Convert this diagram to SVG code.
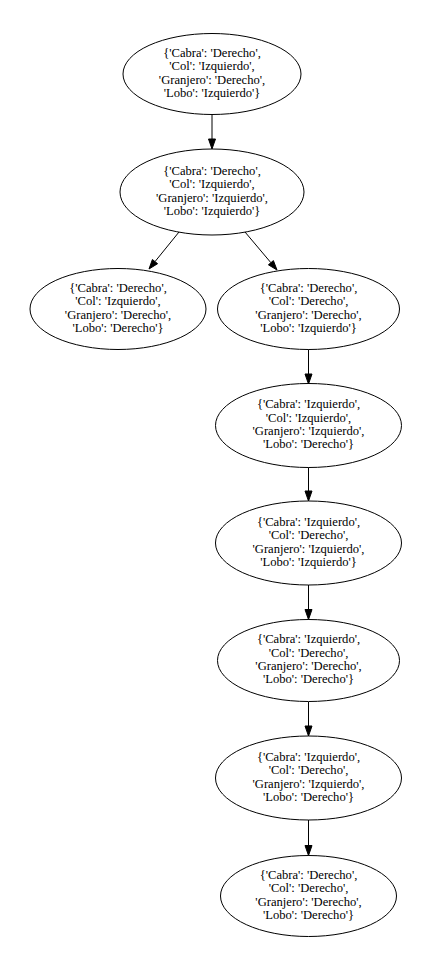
<svg xmlns="http://www.w3.org/2000/svg" width="424" height="954" viewBox="0 0 424 954">
<style>
.node ellipse{fill:none;stroke:#000;stroke-width:1}
.node text{font-family:"Liberation Serif","Times New Roman",serif;font-size:12.6px;fill:#000;text-anchor:middle}
#edges line{stroke:#000;stroke-width:1}
#edges polygon{fill:#000;stroke:#000;stroke-width:1}
</style>
<rect width="424" height="954" fill="#fff"/>
<g id="edges">
<line x1="212" y1="114.5" x2="212" y2="139"/><polygon points="208.5,139 212,149 215.5,139"/>
<line x1="179" y1="232" x2="155" y2="261.6"/><polygon points="157.6,263.7 149,269 152.4,259.5"/>
<line x1="245" y1="232" x2="270.9" y2="262.7"/><polygon points="273.4,260.6 277,270 268.4,264.8"/>
<line x1="308.5" y1="349.5" x2="308.5" y2="374"/><polygon points="305,374 308.5,384 312,374"/>
<line x1="308.5" y1="467.5" x2="308.5" y2="491"/><polygon points="305,491 308.5,501 312,491"/>
<line x1="308.5" y1="585" x2="308.5" y2="609.5"/><polygon points="305,609.5 308.5,619.5 312,609.5"/>
<line x1="308.5" y1="702" x2="308.5" y2="726"/><polygon points="305,726 308.5,736 312,726"/>
<line x1="308.5" y1="820" x2="308.5" y2="845.5"/><polygon points="305,845.5 308.5,855.5 312,845.5"/>
</g>
<g id="n1" class="node"><ellipse cx="212" cy="74" rx="89" ry="40.5"/>
<text x="212" y="56.7">{'Cabra': 'Derecho',</text><text x="212" y="70.1">'Col': 'Izquierdo',</text><text x="212" y="83.5">'Granjero': 'Derecho',</text><text x="212" y="96.9">'Lobo': 'Izquierdo'}</text></g>
<g id="n2" class="node"><ellipse cx="212" cy="192" rx="92" ry="43"/>
<text x="212" y="174.7">{'Cabra': 'Derecho',</text><text x="212" y="188.1">'Col': 'Izquierdo',</text><text x="212" y="201.5">'Granjero': 'Izquierdo',</text><text x="212" y="214.9">'Lobo': 'Izquierdo'}</text></g>
<g id="n3" class="node"><ellipse cx="118" cy="309" rx="88" ry="40.5"/>
<text x="118" y="291.7">{'Cabra': 'Derecho',</text><text x="118" y="305.1">'Col': 'Izquierdo',</text><text x="118" y="318.5">'Granjero': 'Derecho',</text><text x="118" y="331.9">'Lobo': 'Derecho'}</text></g>
<g id="n4" class="node"><ellipse cx="308.5" cy="309" rx="91" ry="40.5"/>
<text x="308.5" y="291.7">{'Cabra': 'Derecho',</text><text x="308.5" y="305.1">'Col': 'Derecho',</text><text x="308.5" y="318.5">'Granjero': 'Derecho',</text><text x="308.5" y="331.9">'Lobo': 'Izquierdo'}</text></g>
<g id="n5" class="node"><ellipse cx="308.5" cy="425.5" rx="93" ry="42"/>
<text x="308.5" y="408.2">{'Cabra': 'Izquierdo',</text><text x="308.5" y="421.6">'Col': 'Izquierdo',</text><text x="308.5" y="435">'Granjero': 'Izquierdo',</text><text x="308.5" y="448.4">'Lobo': 'Derecho'}</text></g>
<g id="n6" class="node"><ellipse cx="308.5" cy="543" rx="93" ry="42"/>
<text x="308.5" y="525.7">{'Cabra': 'Izquierdo',</text><text x="308.5" y="539.1">'Col': 'Derecho',</text><text x="308.5" y="552.5">'Granjero': 'Izquierdo',</text><text x="308.5" y="565.9">'Lobo': 'Izquierdo'}</text></g>
<g id="n7" class="node"><ellipse cx="308.5" cy="660.5" rx="91" ry="41"/>
<text x="308.5" y="643.2">{'Cabra': 'Izquierdo',</text><text x="308.5" y="656.6">'Col': 'Derecho',</text><text x="308.5" y="670">'Granjero': 'Derecho',</text><text x="308.5" y="683.4">'Lobo': 'Derecho'}</text></g>
<g id="n8" class="node"><ellipse cx="308.5" cy="778" rx="93" ry="42"/>
<text x="308.5" y="760.7">{'Cabra': 'Izquierdo',</text><text x="308.5" y="774.1">'Col': 'Derecho',</text><text x="308.5" y="787.5">'Granjero': 'Izquierdo',</text><text x="308.5" y="800.9">'Lobo': 'Derecho'}</text></g>
<g id="n9" class="node"><ellipse cx="308.5" cy="896" rx="88" ry="40.5"/>
<text x="308.5" y="878.7">{'Cabra': 'Derecho',</text><text x="308.5" y="892.1">'Col': 'Derecho',</text><text x="308.5" y="905.5">'Granjero': 'Derecho',</text><text x="308.5" y="918.9">'Lobo': 'Derecho'}</text></g>
</svg>
